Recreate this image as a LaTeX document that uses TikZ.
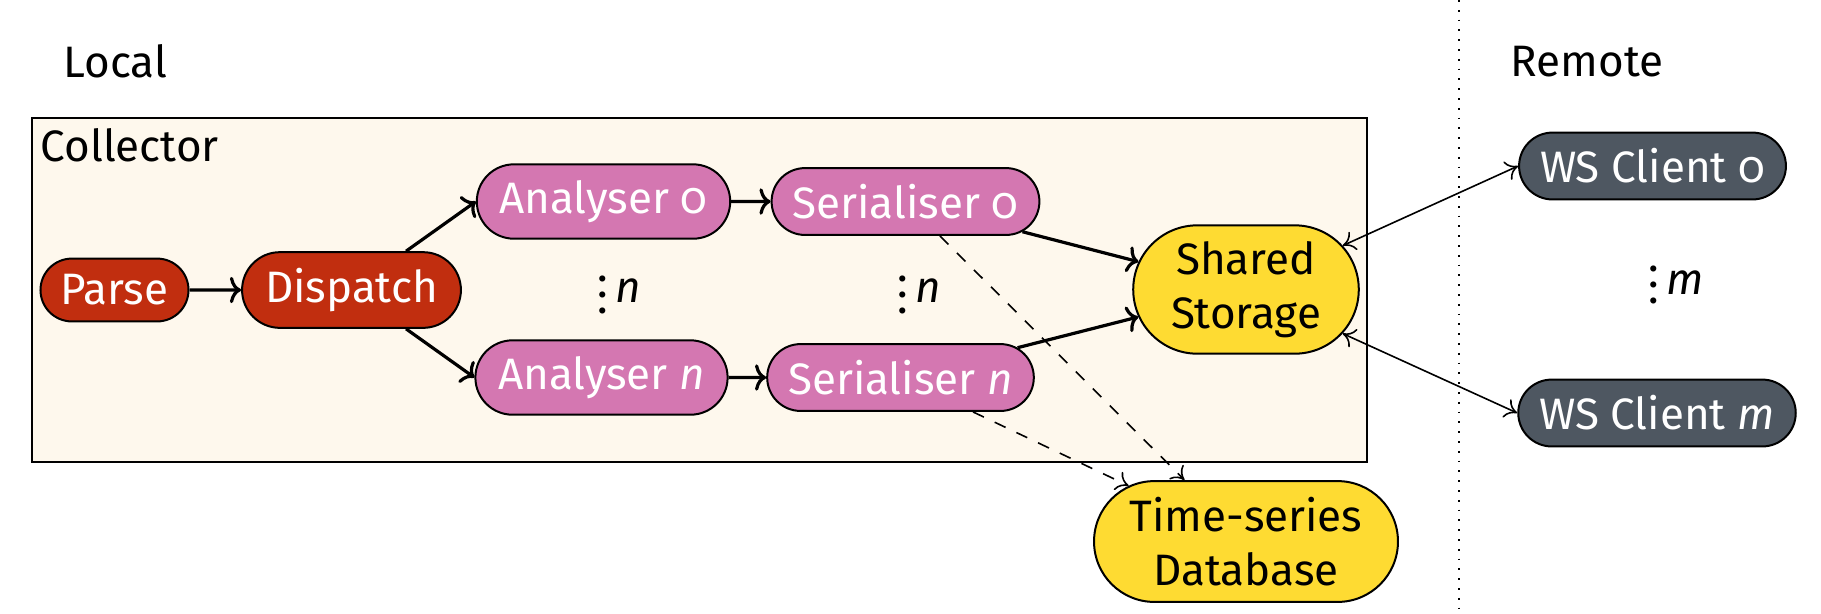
\documentclass[tikz,border=0pt]{standalone}
\usepackage{fontspec}
\setmainfont{Fira Sans}[Numbers=OldStyle]
\usetikzlibrary{shapes.misc, arrows.meta}

\definecolor{cRed}{RGB}{193,46,15}
\definecolor{cPink}{RGB}{212,119,177}
\definecolor{cYellow}{RGB}{254,219,50}
\definecolor{cSlate}{RGB}{78,87,97}
\definecolor{cCream}{RGB}{254,248,237}

\tikzset{
  box/.style={rounded rectangle, draw, line width=0.5pt, inner sep=0.4em,
    align=center},
  redbox/.style={box, fill=cRed, text=white},
  pinkbox/.style={box, fill=cPink, text=white},
  yellowbox/.style={box, fill=cYellow, text=black},
  slatebox/.style={box, fill=cSlate, text=white},
  plain/.style={inner sep=0pt, anchor=base west},
  flow/.style={-{Computer Modern Rightarrow[length=2.8pt, width=6.6pt]},
    thick},
  store/.style={-{Computer Modern Rightarrow[length=3pt, width=5pt]},
    line width=0.4pt, dashed},
  link/.style={{Computer Modern Rightarrow[length=3pt, width=5pt]}-%
    {Computer Modern Rightarrow[length=3pt, width=5pt]}, line width=0.4pt},
}

\begin{document}
\begin{tikzpicture}[x=0.25pt, y=-0.25pt, font=\fontsize{11}{13.5}\selectfont]
  \useasboundingbox (0,0) rectangle (1821,613);

  % local / remote split
  \draw[dotted, line width=0.45pt] (1459,0) -- (1459,613);
  \node[plain] (local) at (63,77) {Local};
  \node[plain] (remote) at (1510,76) {Remote};

  % collector frame
  \draw[line width=0.5pt, fill=cCream] (32,118) rectangle (1367,462);
  \node[plain] (collector) at (40,161) {Collector};

  % pipeline stages
  \node[redbox] (parse) at (114.5,290) {Parse};
  \node[redbox] (dispatch) at (351.5,290) {Dispatch};
  \node[pinkbox] (an0) at (603.5,201.5) {Analyser 0};
  \node[pinkbox] (ann) at (601.5,377.5) {Analyser \textit{n}};
  \node[pinkbox] (se0) at (905.5,201.5) {Serialiser 0};
  \node[pinkbox] (sen) at (900.5,377.5) {Serialiser \textit{n}};
  \node[yellowbox] (shared) at (1246,289.5) {Shared\\Storage};
  \node[yellowbox] (tsdb) at (1246,541.5) {Time-series\\Database};

  % remote clients
  \node[slatebox] (ws0) at (1652.5,166) {WS Client 0};
  \node[slatebox] (wsm) at (1657,413) {WS Client \textit{m}};

  % repetition marks
  \node[plain] (repA) at (597,302) {\raisebox{-2.75pt}{$\vdots$}\,\textit{n}};
  \node[plain] (repS) at (897,302) {\raisebox{-2.75pt}{$\vdots$}\,\textit{n}};
  \node[plain] (repW) at (1648,294) {\raisebox{-2.25pt}{$\vdots$}\,\textit{m}};

  % connectors
  \draw[flow] (parse) -- (dispatch);
  \draw[flow] (dispatch) -- (an0.west);
  \draw[flow] (dispatch) -- (ann.west);
  \draw[flow] (an0) -- (se0);
  \draw[flow] (ann) -- (sen);
  \draw[flow] (se0) -- (shared);
  \draw[flow] (sen) -- (shared);
  \draw[store] (se0) -- (tsdb);
  \draw[store] (sen) -- (tsdb);
  \draw[link] (shared) -- (ws0.west);
  \draw[link] (shared) -- (wsm.west);
\end{tikzpicture}
\end{document}
